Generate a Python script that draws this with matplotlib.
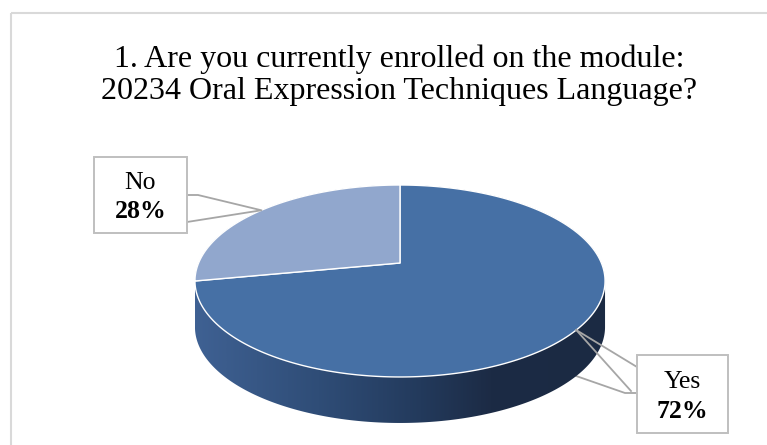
import numpy as np
import matplotlib
matplotlib.use("Agg")
import matplotlib.pyplot as plt
from matplotlib.patches import Polygon, Rectangle
from matplotlib.colors import LinearSegmentedColormap

# -------------------------------------------------
# DATA
# -------------------------------------------------
categories = ["Yes", "No"]
shares = [72, 28]
title_lines = ["1. Are you currently enrolled on the module:",
               "20234 Oral Expression Techniques Language?"]

top_colors = ["#4670a5", "#91a7cd"]
side_stops = ["#3f6193", "#2f4d77", "#233a5c", "#1c2b45", "#1b2a43"]

# canvas is laid out in pixel units (y pointing down)
W, H = 767, 445
CX, CY = 400, 263          # projected centre of the disc
SX, SY = 201.4, 92.6       # horizontal / vertical scale of the disc
K = 0.1875                 # perspective strength
DEPTH = 46                 # thickness of the disc


def project(x, y, drop=0.0):
    """Map a point on the unit disc to the canvas with a simple perspective."""
    d = 1.0 + K * y
    return CX + SX * x / d, CY - SY * y / d + drop


def hull(pts):
    """Monotone-chain convex hull."""
    pts = sorted(map(tuple, pts))

    def cross(o, a, b):
        return (a[0] - o[0]) * (b[1] - o[1]) - (a[1] - o[1]) * (b[0] - o[0])

    lower, upper = [], []
    for p in pts:
        while len(lower) >= 2 and cross(lower[-2], lower[-1], p) <= 0:
            lower.pop()
        lower.append(p)
    for p in reversed(pts):
        while len(upper) >= 2 and cross(upper[-2], upper[-1], p) <= 0:
            upper.pop()
        upper.append(p)
    return np.array(lower[:-1] + upper[:-1])


plt.rcParams["font.family"] = ["Liberation Serif", "DejaVu Serif"]
fig = plt.figure(figsize=(W / 100, H / 100), dpi=100)
ax = fig.add_axes([0, 0, 1, 1])

# let matplotlib work out the slice angles, then re-draw them in perspective
wedges, _ = ax.pie(shares, startangle=90, counterclock=False, radius=1)
angles = [(w.theta1, w.theta2) for w in wedges]
for w in wedges:
    w.remove()

ax.set_aspect("auto")
ax.set_xlim(0, W)
ax.set_ylim(H, 0)
ax.axis("off")

# chart frame
ax.add_patch(Rectangle((11, 13), W + 50, H + 50, fill=False,
                       edgecolor="#d9d9d9", lw=1.5, zorder=0))

# -------------------------------------------------
# SIDE WALL (gradient, clipped to the swept disc)
# -------------------------------------------------
t = np.radians(np.linspace(0, 360, 721))
top_x, top_y = project(np.cos(t), np.sin(t))
bot_x, bot_y = project(np.cos(t), np.sin(t), DEPTH)
side_pts = hull(np.column_stack([np.r_[top_x, bot_x], np.r_[top_y, bot_y]]))
side_patch = Polygon(side_pts, closed=True, facecolor="none", edgecolor="none")
ax.add_patch(side_patch)

cmap = LinearSegmentedColormap.from_list(
    "side", list(zip([0.0, 0.3, 0.55, 0.72, 1.0], side_stops)))
grad = np.linspace(0, 1, 256)[None, :]
x0, x1 = side_pts[:, 0].min(), side_pts[:, 0].max()
y0, y1 = side_pts[:, 1].min(), side_pts[:, 1].max()
img = ax.imshow(grad, cmap=cmap, extent=(x0, x1, y1, y0), aspect="auto",
                interpolation="bilinear", zorder=2)
img.set_clip_path(side_patch)

# -------------------------------------------------
# TOP FACE
# -------------------------------------------------
for (a1, a2), col in zip(angles, top_colors):
    arc = np.radians(np.linspace(a1, a2, 300))
    xs = np.r_[0.0, np.cos(arc)]
    ys = np.r_[0.0, np.sin(arc)]
    px, py = project(xs, ys)
    ax.add_patch(Polygon(np.column_stack([px, py]), closed=True,
                         facecolor=col, edgecolor="white", lw=1.0,
                         joinstyle="round", zorder=3))

# -------------------------------------------------
# LABELS WITH CALLOUT LEADERS
# -------------------------------------------------
boxes = {"Yes": (637, 355, 91, 78), "No": (94, 157, 93, 76)}
leader_col = "#a6a6a6"

for (a1, a2), cat, val in zip(angles, categories, shares):
    mid = np.radians((a1 + a2) / 2)
    axp, ayp = project(np.cos(mid), np.sin(mid))
    bx, by, bw, bh = boxes[cat]

    if bx > CX:
        # leader to the right-hand box; the lower edge runs behind the wall
        ax.plot([axp, bx], [ayp, by + 12], color=leader_col, lw=1.3, zorder=4)
        ax.plot([axp, bx - 6], [ayp, by + 36], color=leader_col, lw=1.3, zorder=4)
        ax.plot([axp, bx - 12, bx], [ayp + DEPTH, by + 38, by + 38],
                color=leader_col, lw=1.3, zorder=1)
    else:
        ax.plot([bx + bw, bx + bw + 11, axp, bx + bw],
                [by + 38, by + 38, ayp, by + 65],
                color=leader_col, lw=1.3, zorder=4)

    ax.add_patch(Rectangle((bx, by), bw, bh, facecolor="white",
                           edgecolor="#bfbfbf", lw=1.4, zorder=5))
    ax.text(bx + bw / 2, by + bh * 0.34, cat, ha="center", va="center",
            fontsize=18.5, zorder=6)
    ax.text(bx + bw / 2, by + bh * 0.72, f"{val}%", ha="center", va="center",
            fontsize=18.5, fontweight="bold", zorder=6)

# -------------------------------------------------
# TITLE
# -------------------------------------------------
for i, line in enumerate(title_lines):
    ax.text(399, 59 + 33 * i, line, ha="center", va="center",
            fontsize=23, zorder=6)

fig.savefig("out.png", dpi=100)
